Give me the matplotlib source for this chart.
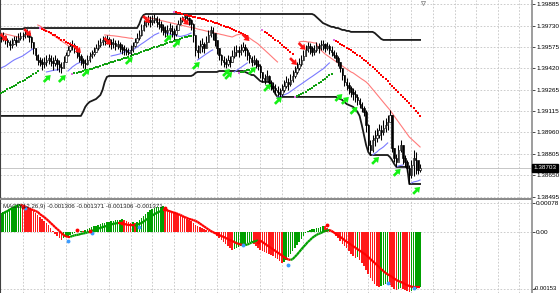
import numpy as np
import matplotlib.pyplot as plt
import matplotlib.transforms as mtransforms
from matplotlib.collections import LineCollection
from matplotlib.patches import Rectangle

plt.rcParams['font.family'] = ['Liberation Sans', 'DejaVu Sans']

# prices are kept in points above 1.38000 (1 point = 0.00001)
BASE = 1.38
PT = 1e-5

close_pts = [
    1640, 1655, 1626, 1612, 1590, 1597, 1626, 1612, 1640, 1655,
    1655, 1669, 1676, 1648, 1612, 1568, 1518, 1482, 1468, 1453,
    1468, 1482, 1496, 1475, 1460, 1482, 1453, 1432, 1424, 1468,
    1518, 1554, 1583, 1590, 1568, 1540, 1511, 1482, 1460, 1453,
    1482, 1511, 1525, 1540, 1568, 1590, 1612, 1626, 1619, 1633,
    1612, 1597, 1604, 1583, 1597, 1576, 1561, 1554, 1540, 1532,
    1554, 1583, 1612, 1640, 1662, 1698, 1734, 1756, 1770, 1756,
    1770, 1784, 1756, 1741, 1720, 1698, 1684, 1698, 1712, 1691,
    1669, 1698, 1741, 1770, 1792, 1799, 1784, 1770, 1741, 1662,
    1554, 1540, 1583, 1597, 1568, 1612, 1662, 1698, 1676, 1626,
    1568, 1518, 1482, 1468, 1453, 1482, 1468, 1511, 1540, 1554,
    1540, 1554, 1576, 1554, 1518, 1496, 1468, 1482, 1453, 1439,
    1396, 1352, 1338, 1367, 1324, 1295, 1280, 1266, 1252, 1237,
    1266, 1295, 1324, 1309, 1338, 1367, 1396, 1424, 1453, 1482,
    1511, 1554, 1583, 1568, 1540, 1554, 1583, 1568, 1590, 1597,
    1568, 1583, 1554, 1540, 1518, 1496, 1468, 1424, 1374, 1324,
    1302, 1280, 1252, 1237, 1216, 1194, 1165, 1136, 1108, 1014,
    870, 834, 906, 920, 942, 978, 964, 992, 1014, 1036,
    1086, 848, 776, 748, 834, 870, 776, 748, 704, 654,
    726, 776, 762, 690, 703]

high_pts = [
    1676, 1684, 1662, 1640, 1626, 1640, 1655, 1655, 1676, 1684,
    1684, 1698, 1705, 1684, 1655, 1612, 1568, 1525, 1504, 1496,
    1504, 1518, 1525, 1518, 1504, 1518, 1496, 1482, 1468, 1511,
    1540, 1583, 1612, 1626, 1604, 1583, 1554, 1525, 1496, 1489,
    1518, 1540, 1554, 1576, 1597, 1626, 1640, 1655, 1655, 1662,
    1648, 1633, 1640, 1626, 1626, 1612, 1597, 1590, 1576, 1568,
    1590, 1612, 1640, 1676, 1698, 1741, 1770, 1792, 1806, 1799,
    1806, 1813, 1799, 1784, 1763, 1741, 1727, 1734, 1748, 1734,
    1712, 1734, 1770, 1791, 1799, 1806, 1799, 1791, 1777, 1748,
    1662, 1590, 1626, 1640, 1612, 1655, 1698, 1727, 1720, 1676,
    1612, 1568, 1525, 1511, 1496, 1518, 1511, 1554, 1583, 1590,
    1583, 1597, 1612, 1597, 1568, 1540, 1511, 1518, 1496, 1482,
    1453, 1396, 1381, 1410, 1374, 1338, 1324, 1309, 1295, 1280,
    1309, 1338, 1367, 1352, 1381, 1410, 1439, 1468, 1496, 1518,
    1554, 1590, 1612, 1604, 1583, 1590, 1612, 1604, 1626, 1626,
    1604, 1612, 1597, 1583, 1554, 1540, 1511, 1468, 1424, 1374,
    1352, 1324, 1295, 1280, 1266, 1237, 1208, 1180, 1151, 1122,
    1020, 906, 942, 978, 992, 1021, 1014, 1050, 1064, 1086,
    1122, 1086, 848, 805, 870, 906, 870, 798, 762, 726,
    762, 834, 820, 748, 733]

low_pts = [
    1612, 1619, 1597, 1576, 1554, 1568, 1597, 1583, 1612, 1626,
    1626, 1640, 1648, 1612, 1568, 1525, 1482, 1446, 1439, 1410,
    1424, 1439, 1453, 1439, 1410, 1439, 1410, 1396, 1388, 1424,
    1468, 1511, 1540, 1554, 1532, 1496, 1468, 1446, 1424, 1417,
    1446, 1468, 1496, 1511, 1540, 1554, 1576, 1590, 1590, 1597,
    1576, 1561, 1568, 1554, 1561, 1540, 1525, 1518, 1518, 1518,
    1518, 1540, 1576, 1604, 1626, 1655, 1691, 1720, 1734, 1720,
    1734, 1748, 1720, 1705, 1684, 1662, 1648, 1655, 1669, 1648,
    1626, 1655, 1698, 1734, 1756, 1763, 1748, 1734, 1698, 1612,
    1511, 1496, 1532, 1540, 1532, 1568, 1612, 1648, 1626, 1583,
    1525, 1482, 1446, 1432, 1424, 1439, 1432, 1468, 1496, 1511,
    1504, 1518, 1540, 1511, 1482, 1460, 1438, 1445, 1424, 1410,
    1352, 1324, 1309, 1338, 1295, 1266, 1252, 1237, 1223, 1215,
    1223, 1252, 1280, 1266, 1295, 1324, 1352, 1381, 1410, 1439,
    1482, 1511, 1540, 1525, 1511, 1518, 1540, 1532, 1554, 1554,
    1540, 1554, 1525, 1511, 1496, 1468, 1439, 1396, 1338, 1295,
    1266, 1237, 1216, 1194, 1180, 1158, 1136, 1108, 1079, 964,
    834, 798, 820, 863, 892, 920, 906, 942, 964, 978,
    1050, 820, 748, 712, 762, 820, 733, 712, 676, 589,
    632, 647, 661, 661, 676]

# channel lines (step values)
upper_pts = ([1705] * 11 + [1712] * 53 + [1741, 1784, 1806] + [1813] * 78
             + [1806, 1792, 1777, 1763, 1748, 1741, 1734, 1727, 1720, 1720,
                1712, 1712, 1705, 1698, 1698, 1691, 1691]
             + [1684] * 11 + [1676, 1662, 1648, 1633] + [1626] * 18)
lower_pts = ([1078] * 38
             + [1107, 1143, 1164, 1179, 1186, 1193, 1200, 1215, 1229, 1265, 1323, 1359]
             + [1366] * 39 + [1373, 1388] + [1395] * 10 + [1402] * 12
             + [1395, 1388, 1381, 1373, 1373, 1359, 1344, 1330] + [1323] * 4
             + [1301, 1272, 1236] + [1215] * 28
             + [1207, 1200, 1193, 1179, 1164, 1157, 1150, 1143, 1128, 1107,
                1078, 1013, 941, 869, 818]
             + [796] * 9 + [782, 760, 732] + [710] * 6 + [587] * 6)

# trailing stop dots: (first bar, values)
red_dots = [
    (18, [1712, 1705, 1698, 1691, 1683, 1676, 1665, 1658, 1647, 1640, 1629, 1622,
          1611, 1604, 1597, 1586, 1579, 1575]),
    (80, [1827, 1824, 1820, 1817, 1813, 1809, 1806, 1802, 1799, 1795, 1791, 1787,
          1783, 1778, 1774, 1770, 1765, 1760, 1755, 1750, 1745, 1740, 1734, 1728,
          1722, 1716, 1711, 1705, 1698, 1690, 1683, 1676, 1669, 1662, 1654]),
    (121, [1698, 1686, 1675, 1663, 1652, 1640, 1628, 1616, 1603, 1591, 1578, 1565,
           1551, 1538, 1525]),
    (154, [1626, 1617, 1608, 1600, 1590, 1581, 1571, 1561, 1551, 1541, 1530, 1519,
           1507, 1496, 1484, 1471, 1458, 1445, 1432, 1418, 1403, 1389, 1374, 1359,
           1343, 1327, 1311, 1295, 1279, 1264, 1248, 1232, 1216, 1200, 1184, 1169,
           1153, 1134, 1115, 1096, 1078]),
]
green_dots = [
    (0, [1243, 1252, 1261, 1269, 1278, 1287, 1295, 1304, 1313, 1321, 1330, 1339,
         1348, 1357, 1367, 1378, 1389, 1401]),
    (33, [1380, 1385, 1389, 1393, 1398, 1402, 1406, 1411, 1415, 1419, 1424,
          1429, 1434, 1439, 1444, 1449, 1454, 1459, 1464, 1469, 1474, 1479, 1484,
          1489, 1494, 1499, 1504, 1510,
          1516, 1522, 1528, 1533, 1539, 1545, 1551, 1556, 1562, 1568, 1573, 1578,
          1583, 1588, 1593, 1598, 1603, 1608, 1613, 1618, 1623, 1628, 1634, 1639,
          1644, 1649, 1652, 1654]),
    (110, [1391, 1395, 1398, 1402, 1406, 1409, 1413, 1417]),
    (136, [1215, 1222, 1229, 1237, 1245, 1254, 1262, 1272, 1281, 1291, 1301, 1312,
           1323, 1334, 1346, 1358, 1370, 1383]),
]

blue_ma = [
    (0, [1424, 1431, 1438, 1449, 1460, 1471, 1481, 1489, 1496, 1503, 1510, 1521,
         1532, 1543, 1554, 1564]),
    (21, [1395, 1398, 1402, 1406, 1409, 1409, 1413]),
    (31, [1402, 1416, 1431, 1442, 1453, 1460, 1467, 1471]),
    (51, [1510, 1514, 1517, 1521, 1525, 1532, 1539, 1543, 1546, 1550]),
    (61, [1554, 1564, 1575, 1586, 1597, 1607, 1618, 1629, 1640, 1651, 1662, 1669, 1676]),
    (76, [1676, 1672, 1669, 1665, 1662, 1658, 1654, 1651, 1654, 1658, 1662, 1669, 1676]),
    (91, [1481, 1492, 1503, 1514, 1525, 1535, 1546, 1554]),
    (108, [1395, 1406, 1416, 1427, 1438, 1449, 1460]),
    (128, [1215, 1218, 1222, 1229, 1236, 1243, 1254, 1265, 1276, 1287, 1298, 1308,
           1319, 1330, 1341, 1352, 1362, 1373, 1384, 1395, 1406, 1416, 1431, 1445, 1460]),
    (172, [796, 807, 818, 833, 843, 854, 869, 883]),
    (183, [710, 717, 721, 724]),
    (190, [595, 602, 605, 609, 616]),
]
pink_ma = [
    (0, [1676, 1672, 1669, 1665, 1662, 1658, 1654, 1651, 1647, 1647]),
    (17, [1734, 1727, 1716, 1705, 1694, 1683, 1672, 1662, 1651, 1640, 1629, 1618,
          1608, 1597, 1586, 1575, 1564]),
    (48, [1662, 1660, 1659, 1657, 1656, 1654, 1652, 1650, 1647, 1645, 1643, 1640,
          1638, 1636]),
    (67, [1791, 1788, 1784, 1781, 1777, 1773, 1770, 1766, 1763, 1759,
          1755, 1752, 1748, 1745, 1741, 1737, 1734, 1730, 1727, 1723,
          1719, 1716, 1712, 1709, 1705, 1701, 1698, 1694, 1690, 1687,
          1683, 1680, 1676, 1673, 1669, 1665, 1662, 1658, 1654, 1651,
          1647, 1654, 1662, 1665, 1669, 1669, 1662, 1651, 1640, 1629, 1618, 1608,
          1597, 1582, 1568, 1554, 1539, 1525, 1510, 1496, 1481, 1467]),
    (138, [1611, 1615, 1615, 1615, 1611, 1611, 1608, 1604, 1604]),
    (147, [1568, 1554, 1539, 1525, 1514, 1503, 1492, 1481, 1471, 1460, 1449, 1438,
           1427, 1416, 1406, 1395, 1388, 1377, 1366, 1355, 1344, 1334, 1323,
           1308, 1290, 1271, 1252, 1233, 1215, 1196, 1177, 1158, 1140, 1121,
           1099, 1078, 1056, 1034, 1013, 991, 969, 948, 926,
           912, 897, 883, 868, 854]),
]

green_arrow_bar = [23, 30, 41, 61, 79, 83, 92, 106, 107, 118, 125, 130, 158, 161, 165, 175, 185, 194]
green_arrow_pts = [1373, 1373, 1416, 1503, 1662, 1626, 1467, 1416, 1395, 1431, 1308, 1215,
                   1236, 1215, 1143, 782, 696, 566]
red_arrow_bar = [3, 14, 37, 51, 69, 87, 115, 137, 141]
red_arrow_pts = [1618, 1654, 1532, 1590, 1748, 1734, 1618, 1445, 1554]

# MACD panel, in units of 0.00001
hist_pts = [
    51, 54, 56, 59, 62, 65, 67, 69, 70, 71,
    70, 69, 67, 65, 62, 56, 51, 46, 40, 35,
    30, 24, 19, 11, 3, -5, -11, -16, -22, -17,
    -13, -11, -8, -5, -3, 3, 1, 4, 3, 5,
    8, 11, 13, 16, 17, 19, 22, 23, 24, 27,
    28, 30, 30, 31, 32, 32, 34, 32, 30, 27,
    24, 27, 23, 27, 32, 38, 43, 48, 54, 59,
    62, 65, 66, 67, 67, 69, 65, 62, 59, 56,
    54, 51, 48, 46, 43, 40, 35, 32, 30, 24,
    19, 16, 13, 11, 8, 5, 4, 3, -1, -5,
    -11, -16, -22, -27, -32, -38, -43, -48, -46, -43,
    -40, -38, -35, -32, -30, -28, -27, -32, -38, -43,
    -48, -51, -54, -56, -59, -62, -65, -69, -73, -78,
    -83, -81, -75, -67, -59, -51, -43, -35, -27, -19,
    -11, -4, 3, 5, 8, 9, 11, 12, 13, 16,
    15, 12, 8, 3, -4, -11, -17, -24, -31, -38,
    -44, -51, -58, -65, -70, -67, -75, -83, -91, -102,
    -113, -124, -132, -140, -145, -149, -145, -143, -140, -137,
    -143, -148, -153, -156, -153, -151, -153, -156, -159, -161,
    -159, -156, -153, -151, -148]

macd_pts = [
    46, 50, 54, 56, 61, 63, 67, 70, 71, 73,
    71, 69, 66, 63, 61, 59, 56, 54, 48, 44,
    40, 35, 30, 24, 19, 13, 8, 3, -3, -8,
    -12, -13, -13, -11, -9, -8, -7, -5, -4, -3,
    -1, 0, 3, 5, 8, 9, 11, 13, 15, 16,
    19, 20, 22, 23, 24, 24, 23, 22, 20, 19,
    19, 19, 17, 19, 22, 24, 28, 32, 36, 40,
    44, 48, 51, 54, 56, 59, 59, 58, 56, 54,
    52, 51, 48, 46, 43, 40, 38, 35, 34, 32,
    30, 27, 23, 19, 15, 11, 7, 3, 0, -3,
    -5, -8, -11, -13, -16, -19, -22, -24, -27, -30,
    -32, -34, -35, -35, -34, -31, -28, -26, -24, -23,
    -23, -27, -31, -35, -39, -43, -47, -51, -55, -59,
    -63, -67, -71, -74, -75, -73, -67, -61, -54, -47,
    -40, -34, -27, -22, -16, -12, -8, -5, -3, 0,
    3, 4, 5, 3, -1, -5, -9, -13, -17, -22,
    -26, -30, -34, -38, -42, -46, -50, -54, -58, -62,
    -67, -73, -78, -83, -89, -94, -100, -105, -110, -114,
    -117, -121, -125, -129, -132, -134, -137, -140, -143, -145,
    -147, -148, -148, -148, -148]

blue_dot_bar = [11, 31, 42, 64, 112, 133, 179, 191]
blue_dot_val = [65, -24, -3, 13, -35, -89, -137, -151]
red_dot_bar = [10, 35, 41, 56, 76, 119, 151]
red_dot_val = [67, 5, 3, 24, 65, -27, 19]

price_ticks = [1.38495, 1.38650, 1.38805, 1.38960, 1.39115, 1.39265,
               1.39420, 1.39575, 1.39730, 1.39885]
macd_ticks = [0.00078, 0.0, -0.00153]
macd_tick_labels = ['0.00078', '0.00', '-0.00153']
last_price = 1.38703
macd_title = 'MACD(12,26,9) -0.001306 -0.001371 -0.001306 -0.001371'


def to_price(pts):
    return BASE + np.asarray(pts, dtype=float) * PT


def from_segments(n, segments):
    out = np.full(n, np.nan)
    for start, vals in segments:
        out[start:start + len(vals)] = to_price(vals)
    return out


close = to_price(close_pts)
high = to_price(high_pts)
low = to_price(low_pts)
n = len(close)
idx = np.arange(n)
open_ = np.r_[close[0], close[:-1]]

W, H = 560, 293
fig = plt.figure(figsize=(W / 100, H / 100), dpi=100)
fig.patch.set_facecolor('white')
ax1 = fig.add_axes([0, 95 / H, 532 / W, 198 / H])
ax2 = fig.add_axes([0, 0, 532 / W, 93 / H])

xlim = (-0.463, 245.8)
grid_x = np.arange(10, 250, 10)
for ax in (ax1, ax2):
    ax.set_xlim(*xlim)
    ax.set_xticks(grid_x)
    ax.tick_params(axis='x', length=0, labelbottom=False)
    ax.yaxis.tick_right()
    ax.tick_params(axis='y', length=2, width=0.5, pad=1, labelsize=4.6, colors='black')
    ax.grid(True, linestyle=(0, (2, 2)), color='#c4c4c4', linewidth=0.6)
    ax.set_axisbelow(True)
    for s in ('top', 'bottom'):
        ax.spines[s].set_visible(False)
    ax.spines['right'].set_color('#8c8c8c')
    ax.spines['right'].set_linewidth(1.2)
    ax.spines['left'].set_color('#404040')
    ax.spines['left'].set_linewidth(0.8)

# ---- main price panel
ax1.set_ylim(1.38486, 1.39914)
ax1.set_yticks(price_ticks)
ax1.set_yticklabels(['%.5f' % t for t in price_ticks])

ax1.axhline(last_price, color='#bdbdbd', linewidth=0.6, zorder=1)

ax1.plot(idx, to_price(upper_pts), color='#1a1a1a', linewidth=1.3, zorder=2)
ax1.plot(idx, to_price(lower_pts), color='#1a1a1a', linewidth=1.3, zorder=2)

ax1.plot(idx, from_segments(n, pink_ma), color='#ff7a7a', linewidth=0.8, zorder=2)
ax1.plot(idx, from_segments(n, blue_ma), color='#7a7aff', linewidth=0.8, zorder=2)

# candles
up = close >= open_
ax1.vlines(idx, low, high, color='black', linewidth=0.75, zorder=3)
ax1.bar(idx, close - open_, bottom=open_, width=0.65,
        color=np.where(up, 'white', 'black'), edgecolor='black', linewidth=0.45, zorder=4)

# trailing stop dots, with the reversal dot in violet
for segs, col in ((red_dots, '#ff0000'), (green_dots, '#12a012')):
    s = from_segments(n, segs)
    ax1.plot(idx, s, linestyle='none', marker='s', markersize=1.5,
             color=col, markeredgewidth=0, zorder=5)
    for start, vals in segs:
        if start > 0:
            ax1.plot(start, to_price(vals[:1]), linestyle='none', marker='s', markersize=1.9,
                     color='#e070e0', markeredgewidth=0, zorder=6)

arrow_kw = dict(arrowstyle='simple,head_length=0.6,head_width=0.85,tail_width=0.32',
                mutation_scale=6, shrinkA=0, shrinkB=0, linewidth=0)
for b, p in zip(green_arrow_bar, to_price(green_arrow_pts)):
    ax1.annotate('', xy=(b, p), xytext=(-5, -5), textcoords='offset points',
                 arrowprops=dict(color='#14f014', **arrow_kw), zorder=7)
for b, p in zip(red_arrow_bar, to_price(red_arrow_pts)):
    ax1.annotate('', xy=(b, p), xytext=(-5, 5), textcoords='offset points',
                 arrowprops=dict(color='#ff1414', **arrow_kw), zorder=7)

# last price tag
tr = mtransforms.blended_transform_factory(ax1.transAxes, ax1.transData)
ax1.text(1.003, last_price, '%.5f' % last_price, transform=tr, fontsize=4.6,
         color='white', va='center', ha='left', clip_on=False,
         bbox=dict(facecolor='black', edgecolor='black', pad=0.9))
# chart shift marker
trx = mtransforms.blended_transform_factory(ax1.transData, ax1.transAxes)
ax1.plot(195.4, 0.985, marker='v', markersize=3, markerfacecolor='white',
         markeredgecolor='#909090', markeredgewidth=0.6, transform=trx, clip_on=False)

# ---- MACD panel
ax2.set_ylim(-164e-5, 86e-5)
ax2.set_yticks(macd_ticks)
ax2.set_yticklabels(macd_tick_labels)
# keep the lowest label inside the picture
low_lbl = ax2.get_yticklabels()[-1]
low_lbl.set_fontsize(4.2)
low_lbl.set_transform(low_lbl.get_transform()
                      + mtransforms.ScaledTranslation(-1.8 / 72, 1.0 / 72, fig.dpi_scale_trans))

hist = np.asarray(hist_pts, dtype=float) * PT
hist_rise = np.r_[True, hist[1:] >= hist[:-1]]
ax2.bar(idx, hist, width=0.7, color=np.where(hist_rise, '#00a000', '#ff1a1a'),
        linewidth=0, zorder=2)

macd = np.asarray(macd_pts, dtype=float) * PT
pts = np.column_stack([idx, macd])
segs = np.stack([pts[:-1], pts[1:]], axis=1)
seg_cols = np.where(macd[1:] > macd[:-1], '#00a000', '#ff0000')
ax2.add_collection(LineCollection(segs, colors=seg_cols, linewidths=1.6, zorder=3))

ax2.plot(blue_dot_bar, np.asarray(blue_dot_val) * PT, linestyle='none', marker='o',
         markersize=2.8, color='#3c9cff', markeredgewidth=0, zorder=4)
ax2.plot(red_dot_bar, np.asarray(red_dot_val) * PT, linestyle='none', marker='o',
         markersize=2.8, color='#ff0000', markeredgewidth=0, zorder=4)

ax2.text(0.006, 0.925, macd_title, transform=ax2.transAxes, fontsize=4.4,
         color='#202020', va='center', ha='left', zorder=5)

# panel separator
fig.add_artist(Rectangle((0, 93 / H), 532 / W, 2.5 / H, transform=fig.transFigure,
                         facecolor='#8c8c8c', edgecolor='none'))

fig.savefig('out.png', dpi=100, facecolor='white')
